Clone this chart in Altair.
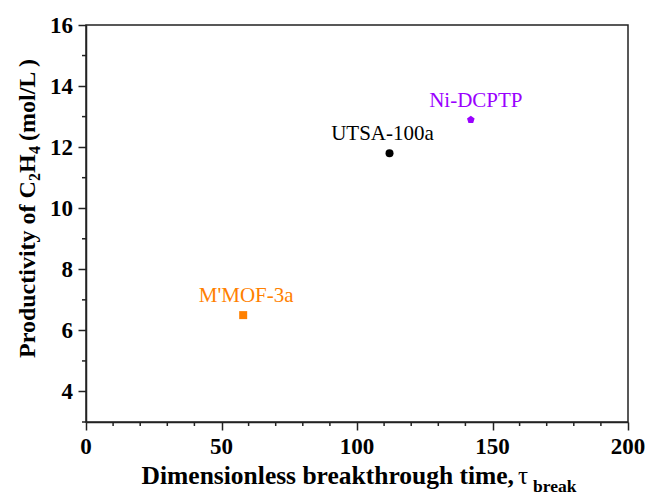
import altair as alt
import pandas as pd

# Adsorbents and their C2H4 productivity vs. dimensionless breakthrough time
names = ["M'MOF-3a", "UTSA-100a", "Ni-DCPTP"]
tau_break = [58, 112, 142]
productivity = [6.5, 11.8, 12.9]

x_major = [0, 50, 100, 150, 200]
x_minor = [v for v in range(10, 200, 10) if v % 50]
y_major = [4, 6, 8, 10, 12, 14, 16]
y_minor = [3, 5, 7, 9, 11, 13, 15]

# Marker styling per material
marker_colors = ["#FF8000", "#000000", "#9A00FF"]
pentagon = "M0,-1L0.951,-0.309L0.588,0.809L-0.588,0.809L-0.951,-0.309Z"
marker_shapes = ["square", "circle", pentagon]
marker_sizes = [64, 64, 80]
label_dx = [3, -7, 5]

SERIF = "Liberation Serif"
FRAME = "#222222"
W, H = 542, 397
MINOR_LEN = 4

df = pd.DataFrame({"name": names, "tau": tau_break, "prod": productivity})

x_scale = alt.Scale(domain=[0, 200], nice=False, zero=False)
y_scale = alt.Scale(domain=[3, 16], nice=False, zero=False)

axis_style = dict(
    title="", grid=False, labels=False, domainColor=FRAME, domainWidth=1.5,
    tickColor=FRAME, tickWidth=1.5, tickSize=8,
)
x_axis = alt.Axis(values=x_major, **axis_style)
y_axis = alt.Axis(values=y_major, **axis_style)

color_scale = alt.Scale(domain=names, range=marker_colors)

# the point layer carries the axes; the other layers share its scales
points = alt.Chart(df).mark_point(filled=True, opacity=1, strokeWidth=0).encode(
    x=alt.X("tau:Q", scale=x_scale, axis=x_axis),
    y=alt.Y("prod:Q", scale=y_scale, axis=y_axis),
    color=alt.Color("name:N", scale=color_scale, legend=None),
    shape=alt.Shape("name:N", scale=alt.Scale(domain=names, range=marker_shapes), legend=None),
    size=alt.Size("name:N", scale=alt.Scale(domain=names, range=marker_sizes), legend=None),
)

# minor ticks, placed through the same scales
minor_x = alt.Chart(pd.DataFrame({"v": x_minor})).mark_rule(
    color=FRAME, strokeWidth=1.5
).encode(x=alt.X("v:Q", scale=x_scale), y=alt.value(H), y2=alt.value(H + MINOR_LEN))
minor_y = alt.Chart(pd.DataFrame({"v": y_minor})).mark_rule(
    color=FRAME, strokeWidth=1.5
).encode(y=alt.Y("v:Q", scale=y_scale), x=alt.value(-MINOR_LEN), x2=alt.value(0))

# bold serif tick labels
x_labels = alt.Chart(pd.DataFrame({"v": x_major})).mark_text(
    font=SERIF, fontSize=23, fontWeight="bold", align="center",
    baseline="alphabetic", color="black",
).encode(x=alt.X("v:Q", scale=x_scale), y=alt.value(H + 32), text="v:Q")
y_labels = alt.Chart(pd.DataFrame({"v": y_major})).mark_text(
    font=SERIF, fontSize=23, fontWeight="bold", align="right",
    baseline="alphabetic", color="black", dy=8,
).encode(y=alt.Y("v:Q", scale=y_scale), x=alt.value(-13), text="v:Q")

layers = [points, minor_x, minor_y, x_labels, y_labels]
for i, n in enumerate(names):
    layers.append(
        alt.Chart(df).transform_filter(alt.datum.name == n).mark_text(
            font=SERIF, fontSize=21, baseline="alphabetic", align="center",
            dx=label_dx[i], dy=-13,
        ).encode(
            x=alt.X("tau:Q", scale=x_scale),
            y=alt.Y("prod:Q", scale=y_scale),
            text="name:N",
            color=alt.Color("name:N", scale=color_scale, legend=None),
        )
    )

one = pd.DataFrame({"k": [0]})


def label(text, x, y, size, weight="bold", align="left", angle=0):
    return alt.Chart(one).mark_text(
        text=text, font=SERIF, fontSize=size, fontWeight=weight, align=align,
        baseline="alphabetic", angle=angle, color="black",
    ).encode(x=alt.value(x), y=alt.value(y))


# x-axis title with subscript
layers += [
    label("Dimensionless breakthrough time,", 428, 459, 25.5, align="right"),
    label("τ", 432, 459, 25, weight="normal"),
    label("break", 447, 467, 17.5),
]
# y-axis title (rotated) with subscripts
layers += [
    label("Productivity of C", -51, 333, 24, angle=270),
    label("2", -46, 156, 16, angle=270),
    label("H", -51, 148, 24, angle=270),
    label("4", -46, 129, 16, angle=270),
    label("(mol/L )", -51, 116, 24, angle=270),
]

chart = alt.layer(*layers).properties(
    width=W, height=H,
    background="white",
    autosize=alt.AutoSizeParams(type="none"),
    padding={"left": 86, "top": 25, "right": 19, "bottom": 73},
).configure_view(stroke=FRAME, strokeWidth=1.5)

chart.save("out.html", embed_options={"renderer": "svg", "actions": False})
